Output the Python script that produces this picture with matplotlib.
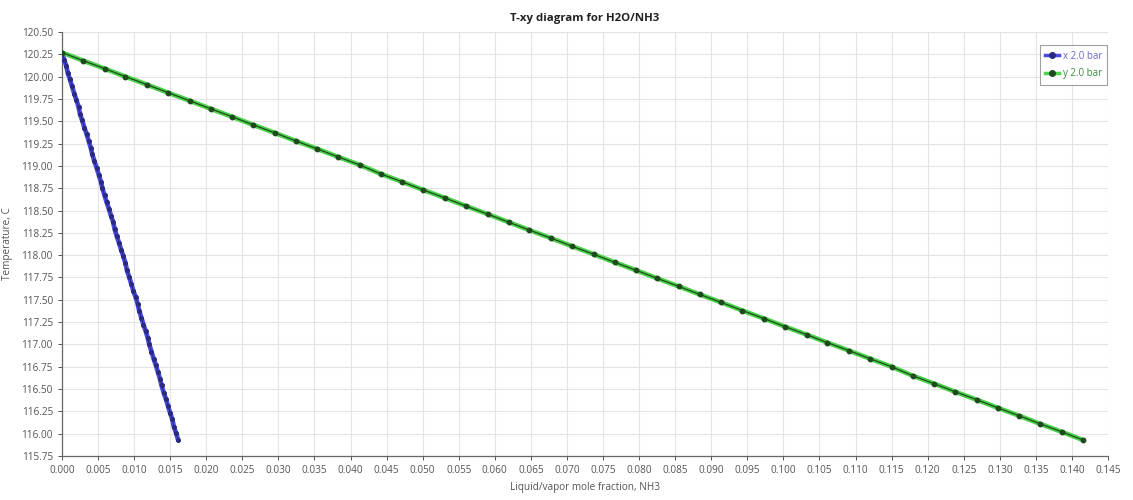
import matplotlib
matplotlib.use("Agg")
import matplotlib.pyplot as plt
from matplotlib.ticker import MultipleLocator, FormatStrFormatter
from matplotlib.lines import Line2D

# Liquid phase (x) at 2.0 bar
x_liq = [0.0000, 0.0003, 0.0006, 0.0008, 0.0011, 0.0014, 0.0017, 0.0020, 0.0023, 0.0025,
         0.0028, 0.0031, 0.0034, 0.0037, 0.0040, 0.0042, 0.0045, 0.0048, 0.0051, 0.0054,
         0.0056, 0.0059, 0.0062, 0.0065, 0.0068, 0.0071, 0.0073, 0.0076, 0.0079, 0.0082,
         0.0085, 0.0088, 0.0090, 0.0093, 0.0096, 0.0099, 0.0102, 0.0105, 0.0107, 0.0110,
         0.0113, 0.0116, 0.0119, 0.0121, 0.0124, 0.0127, 0.0130, 0.0133, 0.0136, 0.0138,
         0.0141, 0.0144, 0.0147, 0.0150, 0.0153, 0.0155, 0.0158, 0.0161]
T_liq = [120.27, 120.19, 120.12, 120.04, 119.97, 119.89, 119.81, 119.74, 119.66, 119.58,
         119.51, 119.43, 119.36, 119.28, 119.20, 119.13, 119.05, 118.98, 118.90, 118.82,
         118.75, 118.67, 118.59, 118.52, 118.44, 118.37, 118.29, 118.21, 118.14, 118.06,
         117.99, 117.91, 117.83, 117.76, 117.68, 117.60, 117.53, 117.45, 117.38, 117.30,
         117.22, 117.15, 117.07, 117.00, 116.92, 116.84, 116.77, 116.69, 116.61, 116.54,
         116.46, 116.39, 116.31, 116.23, 116.16, 116.08, 116.01, 115.93]

# Vapor phase (y) at 2.0 bar
y_vap = [0.0000, 0.0029, 0.0059, 0.0088, 0.0118, 0.0147, 0.0177, 0.0206, 0.0236, 0.0265,
         0.0295, 0.0324, 0.0354, 0.0383, 0.0413, 0.0442, 0.0472, 0.0501, 0.0531, 0.0560,
         0.0590, 0.0619, 0.0648, 0.0678, 0.0707, 0.0737, 0.0766, 0.0796, 0.0825, 0.0855,
         0.0884, 0.0914, 0.0943, 0.0973, 0.1002, 0.1032, 0.1061, 0.1091, 0.1120, 0.1150,
         0.1179, 0.1209, 0.1238, 0.1268, 0.1297, 0.1327, 0.1356, 0.1386, 0.1415]
T_vap = [120.27, 120.18, 120.09, 120.00, 119.91, 119.82, 119.73, 119.64, 119.55, 119.46,
         119.37, 119.28, 119.19, 119.10, 119.01, 118.91, 118.82, 118.73, 118.64, 118.55,
         118.46, 118.37, 118.28, 118.19, 118.10, 118.01, 117.92, 117.83, 117.74, 117.65,
         117.56, 117.47, 117.38, 117.29, 117.20, 117.11, 117.02, 116.93, 116.84, 116.75,
         116.65, 116.56, 116.47, 116.38, 116.29, 116.20, 116.11, 116.02, 115.93]

series_labels = ["x 2.0 bar", "y 2.0 bar"]

plt.rcParams['font.family'] = ['Open Sans', 'DejaVu Sans']

fig = plt.figure(figsize=(11.33, 5.0), dpi=100)
ax = fig.add_axes([0.0547, 0.088, 0.9233, 0.848])

blue, blue_dark = "#4a4ae6", "#2a2a80"
green, green_dark = "#4cd24c", "#1e4a1e"

# Liquid curve: wide coloured band with dark core and dots
ax.plot(x_liq, T_liq, color=blue, lw=3.4, solid_capstyle='round', zorder=3)
ax.plot(x_liq, T_liq, color=blue_dark, lw=0.8, marker='o', ms=2.6,
        mfc=blue_dark, mec=blue_dark, zorder=4)

# Vapor curve
ax.plot(y_vap, T_vap, color=green, lw=3.4, solid_capstyle='round', zorder=3)
ax.plot(y_vap, T_vap, color=green_dark, lw=0.9, marker='o', ms=3.2,
        mfc=green_dark, mec=green_dark, zorder=4)

ax.set_xlim(0.0, 0.145)
ax.set_ylim(115.75, 120.50)
ax.xaxis.set_major_locator(MultipleLocator(0.005))
ax.yaxis.set_major_locator(MultipleLocator(0.25))
ax.xaxis.set_major_formatter(FormatStrFormatter('%.3f'))
ax.yaxis.set_major_formatter(FormatStrFormatter('%.2f'))

ax.grid(True, color="#e4e4e4", lw=0.8)
ax.set_axisbelow(True)
for side in ("top", "right"):
    ax.spines[side].set_visible(False)
for side in ("left", "bottom"):
    ax.spines[side].set_color("#666666")
    ax.spines[side].set_linewidth(0.9)
ax.tick_params(axis='both', labelsize=7.2, colors="#555555", length=3, width=0.7)

ax.set_title("T-xy diagram for H2O/NH3", fontsize=8.2, fontweight='bold', color="#222222", pad=8)
ax.set_xlabel("Liquid/vapor mole fraction, NH3", fontsize=7.2, color="#555555", labelpad=4)
ax.set_ylabel("Temperature, C", fontsize=7.2, color="#555555", labelpad=6)

handles = [
    Line2D([0], [0], color=blue, lw=2.5, marker='o', ms=4, mfc=blue_dark, mec=blue_dark),
    Line2D([0], [0], color=green, lw=2.5, marker='o', ms=4, mfc=green_dark, mec=green_dark),
]
leg = ax.legend(handles, series_labels, loc='upper right', bbox_to_anchor=(1.004, 0.98),
                fontsize=7.0, frameon=True, fancybox=False, handlelength=1.4,
                handletextpad=0.4, borderpad=0.55, labelspacing=0.7)
leg.get_frame().set_edgecolor("#888888")
leg.get_frame().set_linewidth(0.8)
for txt, c in zip(leg.get_texts(), ["#6a6ac8", "#3a8a3a"]):
    txt.set_color(c)

fig.savefig("out.png", dpi=100, facecolor="white")
